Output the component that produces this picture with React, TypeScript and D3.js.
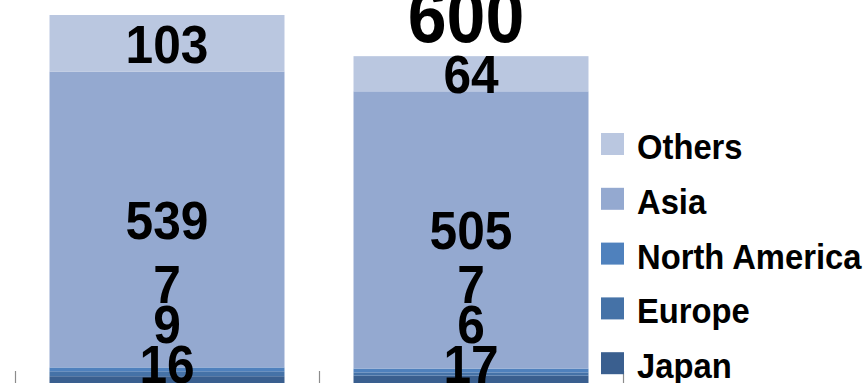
import React from "react";
import * as d3 from "d3";

// Regional breakdown, two periods, stacked bottom-to-top
const categories = ["Period 1", "Period 2"];
const regions = ["Japan", "Europe", "North America", "Asia", "Others"];
const japan = [16, 17];
const europe = [9, 6];
const northAmerica = [7, 7];
const asia = [539, 505];
const others = [103, 64];
const totals = [674, 600];

const colors: Record<string, string> = {
  Japan: "#3A5F8F",
  Europe: "#4572A7",
  "North America": "#4F81BD",
  Asia: "#94A9D0",
  Others: "#BAC7E0",
};

const W = 868;
const H = 383;
const FONT = "'Liberation Sans', Arial, sans-serif";

export default function App() {
  const rows = categories.map((c, i) => ({
    cat: c,
    Japan: japan[i],
    Europe: europe[i],
    "North America": northAmerica[i],
    Asia: asia[i],
    Others: others[i],
  }));
  const series = d3.stack<any>().keys(regions)(rows);

  const x = d3
    .scaleBand<string>()
    .domain(categories)
    .range([15, 623])
    .paddingInner(0.227)
    .paddingOuter(0.1135);
  const y = d3.scaleLinear().domain([0, 674]).range([385, 15]);

  const labelFs = 54;
  const labelGap = 40;
  const baseY = y(0);

  // value labels: centred in the segment, nudged upward so they never overlap
  const labels: { x: number; cy: number; text: string }[] = [];
  categories.forEach((c, i) => {
    let prev = Infinity;
    series.forEach((s, k) => {
      const [a, b] = s[i];
      const natural = (y(a) + y(b)) / 2;
      const cy = k === 0 ? Math.min(natural, baseY - 21) : Math.min(natural, prev - labelGap);
      prev = cy;
      labels.push({ x: x(c)! + x.bandwidth() / 2, cy, text: String(b - a) });
    });
  });

  // total labels sit above each stack; those pushed past the top edge are skipped
  const totalLabels = categories
    .map((c, i) => ({ x: x(c)! + x.bandwidth() / 2 - 5, y: y(totals[i]) - 14, text: String(totals[i]) }))
    .filter((t) => t.y > 10);

  const step = x.step();
  const ticks = d3.range(categories.length + 1).map((i) => x.range()[0] + i * step);

  return (
    <div style={{ position: "absolute", left: 0, top: 0 }}>
      <svg width={W} height={H} style={{ display: "block", background: "#fff" }}>
        {series.map((s) => (
          <g key={s.key} fill={colors[s.key]}>
            {s.map((d, i) => (
              <rect
                key={i}
                x={x(categories[i])}
                y={y(d[1])}
                width={x.bandwidth()}
                height={y(d[0]) - y(d[1])}
              />
            ))}
          </g>
        ))}

        {ticks.map((t, i) => (
          <line key={i} x1={t + 0.5} x2={t + 0.5} y1={baseY - 14} y2={baseY} stroke="#8c8c8c" strokeWidth={1.2} />
        ))}

        {labels.map((l, i) => (
          <text
            key={i}
            transform={`translate(${l.x},${l.cy + labelFs * 0.358}) scale(0.92,1)`}
            textAnchor="middle"
            fontFamily={FONT}
            fontWeight="bold"
            fontSize={labelFs}
            fill="#000"
          >
            {l.text}
          </text>
        ))}

        {totalLabels.map((t) => (
          <text
            key={t.text}
            transform={`translate(${t.x},${t.y}) scale(0.92,1)`}
            textAnchor="middle"
            fontFamily={FONT}
            fontWeight="bold"
            fontSize={76}
            fill="#000"
          >
            {t.text}
          </text>
        ))}

        {regions
          .slice()
          .reverse()
          .map((r, i) => {
            const top = 133 + i * 54.8;
            return (
              <g key={r}>
                <rect x={601} y={top} width={23} height={22} fill={colors[r]} />
                <text
                  transform={`translate(637,${top + 26}) scale(0.91,1)`}
                  fontFamily={FONT}
                  fontWeight="bold"
                  fontSize={36}
                  fill="#000"
                >
                  {r}
                </text>
              </g>
            );
          })}
      </svg>
    </div>
  );
}
